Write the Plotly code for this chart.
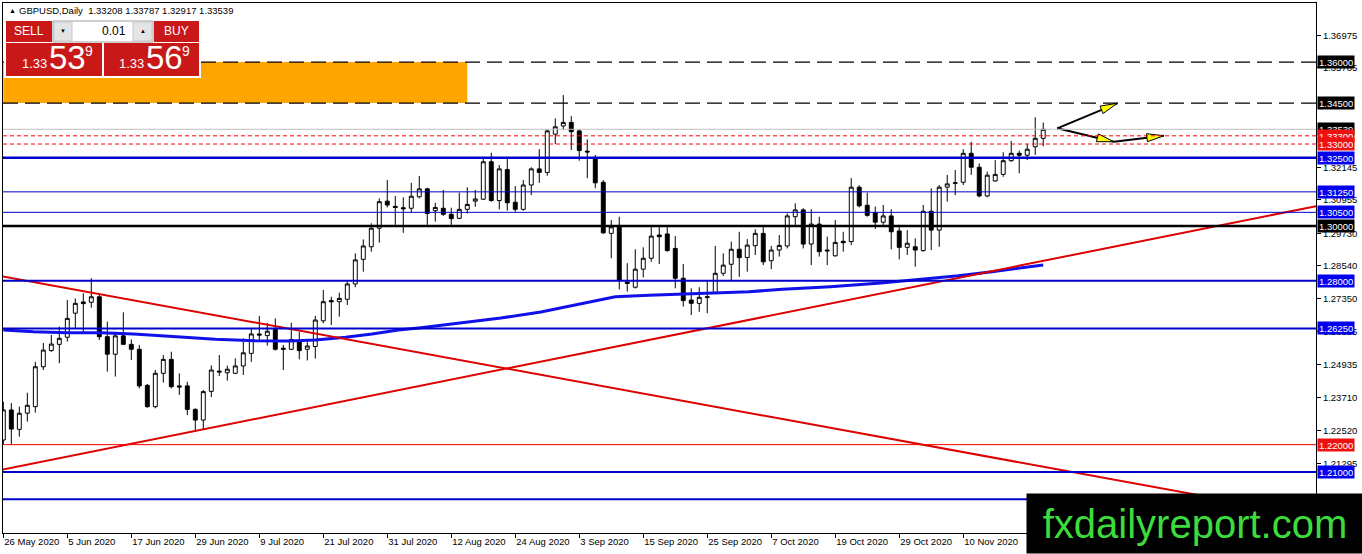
import pandas as pd
import plotly.graph_objects as go

# GBPUSD daily bars, 26 May 2020 .. 24 Nov 2020
dates = pd.bdate_range("2020-05-26", periods=131)

opens = [1.2217, 1.2327, 1.2256, 1.2315, 1.2339, 1.2485, 1.2544, 1.2567, 1.2593, 1.2681,
         1.2722, 1.2721, 1.2741, 1.2595, 1.2531, 1.2598, 1.2567, 1.2549, 1.2417, 1.2339,
         1.2461, 1.2512, 1.2415, 1.2415, 1.2329, 1.2290, 1.2395, 1.2469, 1.2463, 1.2461,
         1.2488, 1.2534, 1.2605, 1.2599, 1.2622, 1.2553, 1.2549, 1.2577, 1.2549, 1.2559,
         1.2653, 1.2727, 1.2723, 1.2732, 1.2788, 1.2878, 1.2924, 1.2992, 1.3091, 1.3072,
         1.3067, 1.3065, 1.3107, 1.3136, 1.3056, 1.3065, 1.3043, 1.3028, 1.3061, 1.3091,
         1.3098, 1.3235, 1.3093, 1.3207, 1.3087, 1.3061, 1.3150, 1.3209, 1.3196, 1.3336,
         1.3366, 1.3379, 1.3348, 1.3274, 1.3248, 1.3160, 1.2973, 1.3002, 1.2795, 1.2776,
         1.2842, 1.2882, 1.2967, 1.2971, 1.2918, 1.2809, 1.2729, 1.2717, 1.2738, 1.2756,
         1.2827, 1.2860, 1.2915, 1.2885, 1.2928, 1.2973, 1.2873, 1.2912, 1.2927, 1.3034,
         1.3059, 1.2934, 1.3007, 1.2912, 1.2891, 1.2944, 1.2943, 1.3142, 1.3076, 1.3049,
         1.3014, 1.3037, 1.2982, 1.2922, 1.2924, 1.2910, 1.3054, 1.2985, 1.3142, 1.3156,
         1.3160, 1.3266, 1.3215, 1.3110, 1.3165, 1.3189, 1.3239, 1.3266, 1.3259, 1.3290,
         1.33208]
highs = [1.2357, 1.2352, 1.2339, 1.2390, 1.2503, 1.2572, 1.2601, 1.2632, 1.2729, 1.2735,
         1.2754, 1.2809, 1.2748, 1.2650, 1.2613, 1.2684, 1.2585, 1.2565, 1.2422, 1.2473,
         1.2528, 1.2540, 1.2461, 1.2430, 1.2333, 1.2400, 1.2490, 1.2528, 1.2489, 1.2516,
         1.2589, 1.2626, 1.2671, 1.2645, 1.2662, 1.2565, 1.2646, 1.2613, 1.2577, 1.2671,
         1.2766, 1.2741, 1.2756, 1.2796, 1.2900, 1.2951, 1.3010, 1.3101, 1.3168, 1.3110,
         1.3105, 1.3158, 1.3183, 1.3140, 1.3085, 1.3132, 1.3067, 1.3122, 1.3142, 1.3132,
         1.3248, 1.3268, 1.3223, 1.3248, 1.3146, 1.3168, 1.3215, 1.3281, 1.3354, 1.3394,
         1.3479, 1.3402, 1.3354, 1.3317, 1.3260, 1.3168, 1.3022, 1.3034, 1.2864, 1.2915,
         1.2922, 1.2997, 1.2997, 1.2997, 1.2963, 1.2861, 1.2772, 1.2776, 1.2796, 1.2927,
         1.2900, 1.2943, 1.2979, 1.2952, 1.2988, 1.2997, 1.2927, 1.2967, 1.3046, 1.3083,
         1.3065, 1.3061, 1.3034, 1.2961, 1.3022, 1.2979, 1.3175, 1.3149, 1.3122, 1.3071,
         1.3077, 1.3061, 1.3004, 1.2985, 1.2955, 1.3077, 1.3138, 1.3150, 1.3187, 1.3205,
         1.3281, 1.3308, 1.3229, 1.3199, 1.3241, 1.3270, 1.3311, 1.3276, 1.3299, 1.3398,
         1.33787]
lows = [1.2199, 1.2199, 1.2229, 1.2284, 1.2317, 1.2473, 1.2540, 1.2498, 1.2577, 1.2626,
        1.2613, 1.2701, 1.2583, 1.2467, 1.2449, 1.2565, 1.2510, 1.2406, 1.2335, 1.2333,
        1.2427, 1.2406, 1.2382, 1.2308, 1.2247, 1.2254, 1.2374, 1.2451, 1.2434, 1.2458,
        1.2455, 1.2503, 1.2583, 1.2562, 1.2544, 1.2473, 1.2546, 1.2512, 1.2508, 1.2515,
        1.2644, 1.2638, 1.2668, 1.2711, 1.2776, 1.2833, 1.2906, 1.2939, 1.3068, 1.3004,
        1.2975, 1.3049, 1.3101, 1.3004, 1.3016, 1.3037, 1.3004, 1.3025, 1.3046, 1.3071,
        1.3095, 1.3089, 1.3061, 1.3056, 1.3052, 1.3056, 1.3113, 1.3158, 1.3184, 1.3300,
        1.3351, 1.3278, 1.3239, 1.3175, 1.3138, 1.2971, 1.2882, 1.2768, 1.2760, 1.2771,
        1.2812, 1.2869, 1.2861, 1.2906, 1.2772, 1.2705, 1.2674, 1.2686, 1.2681, 1.2751,
        1.2817, 1.2802, 1.2814, 1.2833, 1.2894, 1.2857, 1.2842, 1.2888, 1.2918, 1.3000,
        1.2918, 1.2857, 1.2888, 1.2857, 1.2888, 1.2906, 1.2930, 1.3068, 1.3034, 1.2989,
        1.3004, 1.2915, 1.2878, 1.2894, 1.2851, 1.2906, 1.2912, 1.2924, 1.3089, 1.3113,
        1.3150, 1.3187, 1.3105, 1.3105, 1.3162, 1.3180, 1.3235, 1.3193, 1.3241, 1.3260,
        1.32917]
closes = [1.2327, 1.2257, 1.2315, 1.2344, 1.2485, 1.2546, 1.2568, 1.2589, 1.2662, 1.2717,
          1.2716, 1.2741, 1.2595, 1.2531, 1.2598, 1.2567, 1.2549, 1.2415, 1.2339, 1.2461,
          1.2512, 1.2412, 1.2411, 1.2329, 1.2290, 1.2394, 1.2473, 1.2466, 1.2476, 1.2488,
          1.2536, 1.2605, 1.2601, 1.2615, 1.2549, 1.2549, 1.2585, 1.2544, 1.2561, 1.2656,
          1.2723, 1.2723, 1.2735, 1.2788, 1.2876, 1.2927, 1.2992, 1.3089, 1.3077, 1.3068,
          1.3063, 1.3109, 1.3136, 1.3046, 1.3068, 1.3043, 1.3027, 1.3061, 1.3079, 1.3099,
          1.3235, 1.3093, 1.3209, 1.3085, 1.3061, 1.3150, 1.3209, 1.3196, 1.3348, 1.3363,
          1.3379, 1.3345, 1.3276, 1.3271, 1.3158, 1.2975, 1.2997, 1.2802, 1.2790, 1.2842,
          1.2882, 1.2963, 1.2961, 1.2910, 1.2809, 1.2727, 1.2717, 1.2739, 1.2741, 1.2827,
          1.2857, 1.2915, 1.2884, 1.2930, 1.2973, 1.2869, 1.2912, 1.2929, 1.3037, 1.3059,
          1.2934, 1.3007, 1.2906, 1.2909, 1.2940, 1.2939, 1.3142, 1.3074, 1.3039, 1.3014,
          1.3037, 1.2979, 1.2922, 1.2937, 1.2912, 1.3054, 1.2985, 1.3142, 1.3154, 1.3158,
          1.3266, 1.3215, 1.3110, 1.3186, 1.3189, 1.3239, 1.3266, 1.3259, 1.3281, 1.3321,
          1.33539]

# moving average (bar index, price)
ma_idx = [0, 3.8, 8, 12.2, 16.3, 19.7, 23, 26.5, 31.5, 35.7, 39, 42.8, 46.1, 49.4, 52.2,
          57.2, 62.2, 67.2, 72.2, 76.5, 80.7, 84.9, 89, 93.2, 97.4, 103.4, 109.7, 114.7,
          119.4, 123.6, 130]
ma_val = [1.26195, 1.26132, 1.26096, 1.26096, 1.26048, 1.25975, 1.25902, 1.25854, 1.25803,
          1.25792, 1.25829, 1.25927, 1.26048, 1.26195, 1.26279, 1.26451, 1.26634, 1.26853,
          1.27146, 1.27413, 1.27464, 1.27512, 1.27537, 1.27596, 1.27684, 1.27779, 1.27914,
          1.28050, 1.28181, 1.28328, 1.28573]

# trend lines (bar index, price)
down_idx = [-0.34, 164.2]
down_val = [1.28171, 1.19360]
up_idx = [-0.34, 164.2]
up_val = [1.21072, 1.30732]

# supply zone
zone_idx = [0, 58]
zone_val = [1.345, 1.36]

# horizontal levels
levels = [1.36, 1.345, 1.333, 1.330, 1.325, 1.3125, 1.305, 1.30, 1.28, 1.2625, 1.22, 1.21, 1.20]
level_color = ["black", "black", "red", "red", "#0000cd", "#0000cd", "#0000cd", "black",
               "#0000cd", "#0000cd", "red", "#0000cd", "#0000cd"]
level_width = [1.3, 1.3, 1, 1, 2.5, 1, 1, 2.5, 2, 2, 1, 2, 2]
level_dash = ["15px,7px", "15px,7px", "4px,3px", "4px,3px"] + ["solid"] * 9
label_bg = ["black", "black", "#ee1111", "#ee1111", "#0000ee", "#0000ee", "#0000ee", "black",
            "#0000ee", "#0000ee", "#ee1111", "#0000ee", "#0000ee"]

# projection arrows (bar index, price)
arrow_up_x, arrow_up_y = [131.75, 139.25], [1.33575, 1.34490]
arrow_dn1_x, arrow_dn1_y = [131.75, 138.83], [1.33575, 1.33085]
arrow_dn2_x, arrow_dn2_y = [138.83, 145.08], [1.33085, 1.33304]
head_up_x, head_up_y = [139.25, 137.48, 137.10, 139.25], [1.34490, 1.34116, 1.34387, 1.34490]
head_dn1_x, head_dn1_y = [138.83, 136.65, 136.88, 138.83], [1.33085, 1.33085, 1.33370, 1.33085]
head_dn2_x, head_dn2_y = [145.08, 143.03, 142.90, 145.08], [1.33304, 1.33085, 1.33377, 1.33304]

y_ticks = [1.36975, 1.35785, 1.32145, 1.30955, 1.29730, 1.28540,
           1.27350, 1.26125, 1.24935, 1.23710, 1.22520, 1.21295]
x_labels = ["26 May 2020", "5 Jun 2020", "17 Jun 2020", "29 Jun 2020", "9 Jul 2020",
            "21 Jul 2020", "31 Jul 2020", "12 Aug 2020", "24 Aug 2020", "3 Sep 2020",
            "15 Sep 2020", "25 Sep 2020", "7 Oct 2020", "19 Oct 2020", "29 Oct 2020",
            "10 Nov 2020"]

idx = list(range(len(dates)))
x_tickvals = [dates.get_loc(pd.to_datetime(s, format="%d %b %Y")) for s in x_labels]

FONT = "Liberation Sans"
W, H = 1362, 554
L, R, T, B = 3, 46, 3, 21


def fx(px):
    return (px - L) / (W - L - R)


def fy(py):
    return (H - B - py) / (H - T - B)


fig = go.Figure()

fig.add_trace(go.Candlestick(
    x=idx, open=opens, high=highs, low=lows, close=closes,
    increasing=dict(line=dict(color="black", width=1), fillcolor="white"),
    decreasing=dict(line=dict(color="black", width=1), fillcolor="black"),
    whiskerwidth=0, showlegend=False, name="GBPUSD"))

fig.add_trace(go.Scatter(x=ma_idx, y=ma_val, mode="lines",
                         line=dict(color="#1010e8", width=3), hoverinfo="skip"))
fig.add_trace(go.Scatter(x=down_idx, y=down_val, mode="lines",
                         line=dict(color="#dd0000", width=2), hoverinfo="skip"))
fig.add_trace(go.Scatter(x=up_idx, y=up_val, mode="lines",
                         line=dict(color="#dd0000", width=2), hoverinfo="skip"))

for ax, ay in [(arrow_up_x, arrow_up_y), (arrow_dn1_x, arrow_dn1_y), (arrow_dn2_x, arrow_dn2_y)]:
    fig.add_trace(go.Scatter(x=ax, y=ay, mode="lines",
                             line=dict(color="black", width=2), hoverinfo="skip"))
for hx, hy in [(head_up_x, head_up_y), (head_dn1_x, head_dn1_y), (head_dn2_x, head_dn2_y)]:
    fig.add_trace(go.Scatter(x=hx, y=hy, mode="lines", fill="toself", fillcolor="#ffff00",
                             line=dict(color="black", width=1), hoverinfo="skip"))

shapes = []
shapes.append(dict(type="rect", xref="x", yref="y", x0=zone_idx[0], x1=zone_idx[1],
                   y0=zone_val[0], y1=zone_val[1], fillcolor="#ffa500",
                   line=dict(width=0), layer="below"))

# bid line
shapes.append(dict(type="line", xref="paper", yref="y", x0=0, x1=1, y0=closes[-1], y1=closes[-1],
                   line=dict(color="#c0c0c0", width=1), layer="above"))

for lv, c, w, d in zip(levels, level_color, level_width, level_dash):
    shapes.append(dict(type="line", xref="paper", yref="y", x0=0, x1=1, y0=lv, y1=lv,
                       line=dict(color=c, width=w, dash=d), layer="above"))

# one-click trading panel
RED = "#c81818"


def box(x0, y0, x1, y1, fill, line=None):
    return dict(type="rect", xref="paper", yref="paper", x0=fx(x0), x1=fx(x1),
                y0=fy(y1), y1=fy(y0), fillcolor=fill, layer="above",
                line=dict(width=1 if line else 0, color=line or fill))


shapes += [
    box(4, 19, 201, 78, "white"),
    box(6, 21, 52, 42, RED),
    box(6, 43, 102, 76, RED),
    box(104, 43, 199, 76, RED),
    box(154, 21, 199, 42, RED),
    box(53, 21, 153, 42, "white", "#a0a0a0"),
    box(54, 22, 72, 41, "#e4e4e4", "#c8c8c8"),
    box(133, 22, 152, 41, "#e4e4e4", "#c8c8c8"),
]

ann = []


def txt(x, y, s, size, color="white", xanchor="left", family=FONT):
    ann.append(dict(xref="paper", yref="paper", x=fx(x), y=fy(y), text=s, showarrow=False,
                    xanchor=xanchor, yanchor="middle",
                    font=dict(family=family, size=size, color=color)))


txt(7, 10.5, "▲", 7, "black")
txt(17, 10.5, "GBPUSD,Daily  %.5f %.5f %.5f %.5f" % (opens[-1], highs[-1], lows[-1], closes[-1]),
    9.5, "black")
txt(29, 31, "SELL", 12, xanchor="center")
txt(176.5, 31, "BUY", 12, xanchor="center")
txt(128, 31, "0.01", 12, "black", xanchor="right")
txt(63, 31, "▼", 6, "black", xanchor="center")
txt(142.5, 31, "▲", 6, "black", xanchor="center")

bid_txt = "%.5f" % closes[-1]
ask_txt = "%.5f" % (closes[-1] + 0.0003)
for x0, s in [(20, bid_txt), (117, ask_txt)]:
    txt(x0, 64, s[:4], 13)
    txt(x0 + 27, 58, s[4:6], 33)
    txt(x0 + 63, 51, s[6], 14)

# price labels on the right axis
ann.append(dict(xref="paper", yref="y", x=1, y=closes[-1], xanchor="left", xshift=1,
                text="%.5f" % closes[-1], showarrow=False, bgcolor="black", borderpad=1,
                height=10, font=dict(family=FONT, size=9.5, color="white")))
for lv, bg in zip(levels[:-1], label_bg[:-1]):
    ann.append(dict(xref="paper", yref="y", x=1, y=lv, xanchor="left", xshift=1,
                    text="%.5f" % lv, showarrow=False, bgcolor=bg, borderpad=1, height=10,
                    font=dict(family=FONT, size=9.5, color="white")))

# watermark
ann.append(dict(xref="paper", yref="paper", x=fx(1026), y=fy(554), xanchor="left",
                yanchor="bottom", width=336, height=59, bgcolor="black", borderpad=0,
                text="fxdailyreport.com", showarrow=False, align="center",
                font=dict(family=FONT, size=40, color="#3cdc3c")))

fig.update_layout(
    width=W, height=H, margin=dict(l=L, r=R, t=T, b=B),
    paper_bgcolor="white", plot_bgcolor="white", showlegend=False,
    font=dict(family=FONT, size=9.5, color="black"),
    shapes=shapes, annotations=ann,
    xaxis=dict(range=[-0.04, 164.1], rangeslider=dict(visible=False), showgrid=False,
               zeroline=False, showline=True, mirror=True, linecolor="black", linewidth=1,
               ticks="outside", ticklen=4, tickcolor="black", tickvals=x_tickvals,
               ticktext=x_labels, ticklabelposition="outside right",
               tickfont=dict(family=FONT, size=9.5, color="black")),
    yaxis=dict(range=[1.18767, 1.38160], side="right", showgrid=False, zeroline=False,
               showline=True, mirror=True, linecolor="black", linewidth=1,
               ticks="outside", ticklen=4, tickcolor="black", tickvals=y_ticks,
               ticktext=["%.5f" % v for v in y_ticks],
               tickfont=dict(family=FONT, size=9.5, color="black")),
)

fig.write_html("out.html", config={"displayModeBar": False},
               post_script="document.body.style.margin='0px';")
